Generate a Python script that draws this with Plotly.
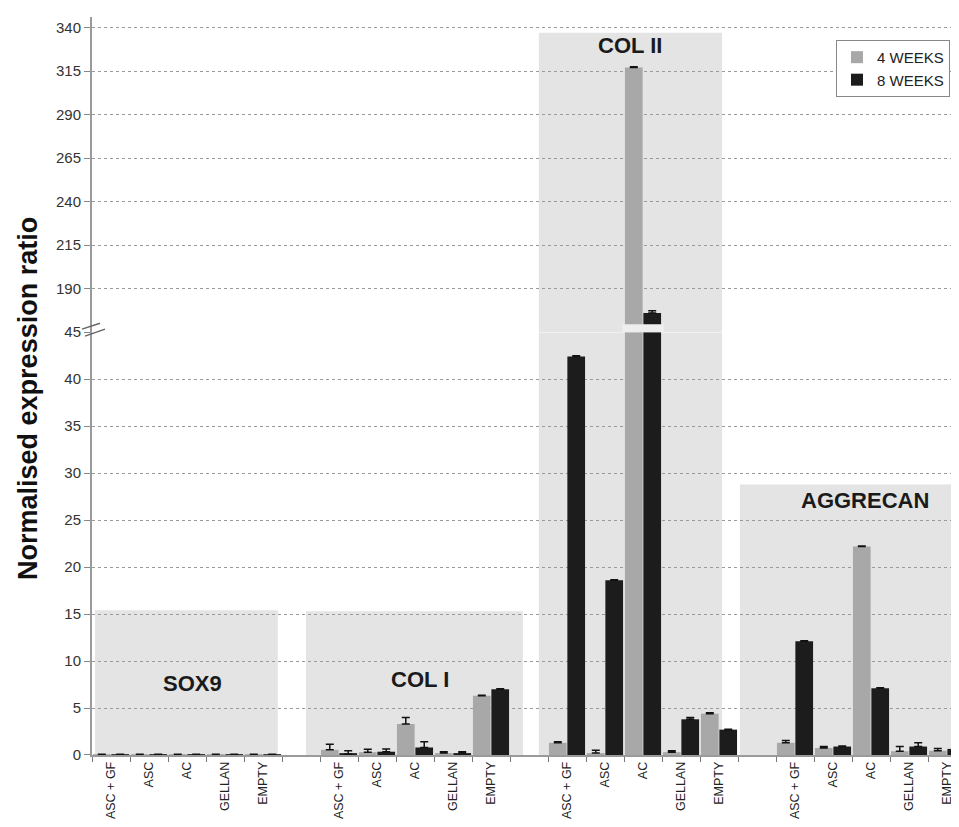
import plotly.graph_objects as go

# ---------------- data ----------------
genes = ["SOX9", "COL I", "COL II", "AGGRECAN"]
conditions = ["ASC + GF", "ASC", "AC", "GELLAN", "EMPTY"]

weeks4_sox9 = [0.08, 0.08, 0.08, 0.08, 0.08]
weeks4_col1 = [0.55, 0.3, 3.3, 0.2, 6.3]
weeks4_col2 = [1.3, 0.2, 317.0, 0.3, 4.4]
weeks4_aggr = [1.3, 0.75, 22.2, 0.4, 0.45]

err4_sox9 = [0, 0, 0, 0, 0]
err4_col1 = [0.6, 0.3, 0.7, 0.15, 0.05]
err4_col2 = [0.1, 0.3, 0.5, 0.15, 0.1]
err4_aggr = [0.25, 0.15, 0.05, 0.5, 0.25]

weeks8_sox9 = [0.08, 0.08, 0.08, 0.08, 0.08]
weeks8_col1 = [0.1, 0.35, 0.8, 0.2, 7.0]
weeks8_col2 = [42.4, 18.6, 176.0, 3.8, 2.7]
weeks8_aggr = [12.1, 0.9, 7.1, 0.9, 0.65]

err8_sox9 = [0, 0, 0, 0, 0]
err8_col1 = [0.35, 0.3, 0.6, 0.15, 0.05]
err8_col2 = [0.1, 0.05, 1.3, 0.2, 0.05]
err8_aggr = [0.05, 0.05, 0.05, 0.4, 0.45]

lower_ticks = [0, 5, 10, 15, 20, 25, 30, 35, 40, 45]
upper_ticks = [190, 215, 240, 265, 290, 315, 340]

# ---------------- assemble ----------------
w4 = weeks4_sox9 + weeks4_col1 + weeks4_col2 + weeks4_aggr
w8 = weeks8_sox9 + weeks8_col1 + weeks8_col2 + weeks8_aggr
e4 = err4_sox9 + err4_col1 + err4_col2 + err4_aggr
e8 = err8_sox9 + err8_col1 + err8_col2 + err8_aggr
xs = [g * 6 + j for g in range(len(genes)) for j in range(len(conditions))]
labels = conditions * len(genes)

C4 = "#a8a8a8"
C8 = "#1c1c1c"
FONT = "Liberation Sans, Arial, sans-serif"

fig = go.Figure()
for ax in ["y", "y2"]:
    for name, vals, errs, col in [("4 WEEKS", w4, e4, C4), ("8 WEEKS", w8, e8, C8)]:
        fig.add_trace(go.Bar(
            x=xs, y=vals, name=name, marker=dict(color=col, line=dict(width=0)),
            error_y=dict(type="data", array=errs, arrayminus=[0] * len(errs),
                         symmetric=False, color="#111", thickness=1.5, width=4),
            yaxis=ax, xaxis="x", showlegend=(ax == "y"), legendgroup=name,
        ))

# page-pixel helpers (the page body adds an 8px offset)
OFF = 8
L, R_PX, BOT, TOP = 92, 959, 755, 15
def px_x(p):
    return (p - L) / (R_PX - L)
def px_y(p):
    return (BOT - p) / (BOT - TOP)

split = px_y(331)
upper_top = 165 + (331 - TOP) / 1.745
FW, FH = 959 - OFF, 827 - OFF

grid = dict(showgrid=True, gridcolor="#9a9a9a", griddash="dot", gridwidth=1,
            zeroline=False, showline=True, linecolor="#9a9a9a", linewidth=2,
            ticks="outside", ticklen=6, tickcolor="#888",
            tickfont=dict(family=FONT, size=15, color="#333"))

fig.update_layout(
    width=FW, height=FH,
    margin=dict(l=L - OFF, r=FW - (R_PX - OFF), t=TOP - OFF, b=FH - (BOT - OFF), pad=0),
    plot_bgcolor="white", paper_bgcolor="white",
    barmode="group", bargap=0.03, bargroupgap=0.04,
    font=dict(family=FONT, color="#222"),
    xaxis=dict(range=[-0.5, -0.5 + (R_PX - L) / 38.0], tickmode="array",
               tickvals=xs, ticktext=labels, tickangle=-90, ticks="",
               showgrid=False, zeroline=False, showline=True, linecolor="#9a9a9a",
               linewidth=1.5, anchor="y",
               tickfont=dict(family=FONT, size=12.5, color="#222"),
               minor=dict(ticks="outside", ticklen=5, tickcolor="#777",
                          tickmode="linear", tick0=-0.5, dtick=1, showgrid=False)),
    yaxis=dict(domain=[0, split], range=[0, 45], tickmode="array",
               tickvals=lower_ticks, **grid),
    yaxis2=dict(domain=[split, 1], range=[165, upper_top], tickmode="array",
                tickvals=upper_ticks, anchor="x", **grid),
    legend=dict(x=px_x(836), y=px_y(38), xanchor="left", yanchor="top",
                bordercolor="#888", borderwidth=1, bgcolor="white",
                font=dict(family=FONT, size=15, color="#222"), traceorder="normal",
                itemsizing="constant", itemwidth=30, tracegroupgap=0),
    showlegend=True,
)

BOX = "#e4e4e4"
shapes = [
    dict(type="rect", xref="x", yref="y", x0=-0.42, x1=4.39, y0=0, y1=15.4),
    dict(type="rect", xref="x", yref="y", x0=5.13, x1=10.84, y0=0, y1=15.3),
    dict(type="rect", xref="x", yref="y", x0=11.26, x1=16.08, y0=0, y1=45),
    dict(type="rect", xref="x", yref="y2", x0=11.26, x1=16.08, y0=165, y1=337),
    dict(type="rect", xref="x", yref="y", x0=16.55, x1=23.5, y0=0, y1=28.8),
]
for s in shapes:
    s.update(fillcolor=BOX, line=dict(width=0), layer="below")
# break gap across the AC bars of COL II
shapes.append(dict(type="rect", xref="x", yref="paper", x0=13.45, x1=14.55,
                   y0=split, y1=px_y(323), fillcolor="#eeeeee", line=dict(width=0),
                   layer="above"))
# axis break marks
shapes.append(dict(type="line", xref="paper", yref="paper", x0=px_x(82), y0=px_y(328),
                   x1=px_x(100), y1=px_y(322), line=dict(color="#666", width=1.5)))
shapes.append(dict(type="line", xref="paper", yref="paper", x0=px_x(85), y0=px_y(335),
                   x1=px_x(105), y1=px_y(328), line=dict(color="#666", width=1.5)))
fig.update_layout(shapes=shapes)

lab = dict(showarrow=False, font=dict(family=FONT, size=22, color="#1a1a1a"))
fig.add_annotation(text="<b>SOX9</b>", x=2.14, y=7.6, xref="x", yref="y", **lab)
fig.add_annotation(text="<b>COL I</b>", x=8.13, y=8.0, xref="x", yref="y", **lab)
fig.add_annotation(text="<b>COL II</b>", x=13.66, y=329.5, xref="x", yref="y2", **lab)
fig.add_annotation(text="<b>AGGRECAN</b>", x=19.84, y=27.1, xref="x", yref="y", **lab)
fig.add_annotation(text="<b>Normalised expression ratio</b>", x=px_x(28), y=px_y(398),
                   xref="paper", yref="paper", xanchor="center", yanchor="middle",
                   textangle=-90, showarrow=False,
                   font=dict(family=FONT, size=27, color="#111"))

fig.write_html("out.html")
